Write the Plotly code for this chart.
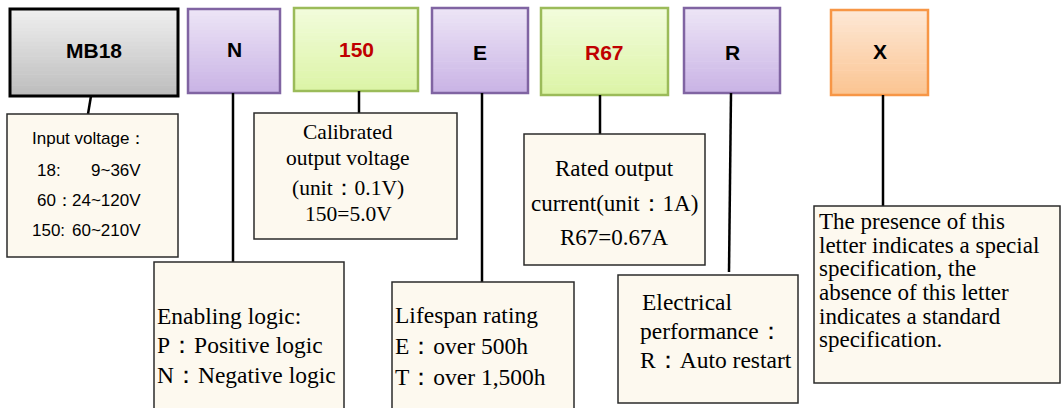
import plotly.graph_objects as go

# ---- content ----
codes = ["MB18", "N", "150", "E", "R67", "R", "X"]
code_text_colors = ["#000000", "#000000", "#c00000", "#000000", "#c00000", "#000000", "#000000"]
code_styles = ["gray", "purple", "green", "purple", "green", "purple", "orange"]

input_title = "Input voltage："
input_keys = ["18:", "60：", "150:"]
input_vals = ["9~36V", "24~120V", "60~210V"]
cal_lines = ["Calibrated", "output voltage", "(unit：0.1V)", "150=5.0V"]
rated_lines = ["Rated output", "current(unit：1A)", "R67=0.67A"]
enable_lines = ["Enabling logic:", "P：Positive logic", "N：Negative logic"]
life_lines = ["Lifespan rating", "E：over 500h", "T：over 1,500h"]
elec_lines = ["Electrical", "performance：", "R：Auto restart"]
spec_lines = ["The presence of this", "letter indicates a special", "specification, the",
              "absence of this letter", "indicates a standard", "specification."]

# ---- layout geometry (pixels) ----
W, H = 1063, 408
code_boxes = [(10, 178, 9, 96), (188, 280, 9, 93), (294, 418, 8, 91), (432, 528, 8, 93),
              (541, 668, 8, 95), (684, 780, 8, 93), (831, 928, 10, 95)]
code_text_y = [50, 49, 49, 52, 52, 52, 51]
connectors = [(91, 96, 88, 114), (233, 93, 233, 262), (359, 91, 359, 113), (482, 93, 482, 282),
              (600, 95, 600, 134), (731, 93, 729, 272), (883, 95, 883, 206)]
desc_boxes = [(7, 178, 114, 257), (254, 457, 113, 239), (524, 705, 134, 265),
              (814, 1060, 206, 383), (154, 344, 262, 420), (392, 574, 282, 420),
              (618, 798, 275, 403)]

styles = {
    "gray": ("#f0f0f0", "#bcbcbc", "#000000", 3),
    "purple": ("#ede5f6", "#c9b3e5", "#8064a2", 2.5),
    "green": ("#f2fcdc", "#dcf4a6", "#9bbb59", 2.5),
    "orange": ("#fde8d6", "#fbc491", "#f79646", 2.5),
}

SANS = "Liberation Sans, Arial, sans-serif"
SERIF = "Liberation Serif, Times New Roman, serif"
CREAM = "#fdf9ef"


def hex2rgb(h):
    h = h.lstrip("#")
    return tuple(int(h[i:i + 2], 16) for i in (0, 2, 4))


def mix(c1, c2, t):
    a, b = hex2rgb(c1), hex2rgb(c2)
    return "rgb(%d,%d,%d)" % tuple(round(a[i] + (b[i] - a[i]) * t) for i in range(3))


fig = go.Figure()
shapes = []
annotations = []

# code boxes with vertical gradient
NB = 24
for (x0, x1, y0, y1), st in zip(code_boxes, code_styles):
    top, bot, border, lw = styles[st]
    for i in range(NB):
        ya = y0 + (y1 - y0) * i / NB
        yb = y0 + (y1 - y0) * (i + 1) / NB
        shapes.append(dict(type="rect", x0=x0, x1=x1, y0=ya, y1=yb + 0.6, line=dict(width=0),
                           fillcolor=mix(top, bot, (i + 0.5) / NB), layer="below"))
    shapes.append(dict(type="rect", x0=x0, x1=x1, y0=y0, y1=y1,
                       line=dict(color=border, width=lw), fillcolor="rgba(0,0,0,0)"))

for (x0, x1, y0, y1), txt_, col, ty in zip(code_boxes, codes, code_text_colors, code_text_y):
    annotations.append(dict(x=(x0 + x1) / 2, y=ty, text="<b>%s</b>" % txt_, showarrow=False,
                            font=dict(family=SANS, size=21, color=col),
                            xanchor="center", yanchor="middle"))

for (x0, y0, x1, y1) in connectors:
    shapes.append(dict(type="line", x0=x0, y0=y0, x1=x1, y1=y1,
                       line=dict(color="#000000", width=2.5)))

for (x0, x1, y0, y1) in desc_boxes:
    shapes.append(dict(type="rect", x0=x0, x1=x1, y0=y0, y1=y1,
                       line=dict(color="#2b2b2b", width=1.5), fillcolor=CREAM))


def txt(x, y, s, size, family=SERIF, anchor="left"):
    annotations.append(dict(x=x, y=y, text=s, showarrow=False, xanchor=anchor, yanchor="middle",
                            font=dict(family=family, size=size, color="#000000")))


# input voltage box
txt(30, 138, input_title, 17, SANS)
for k, v, y, kx in zip(input_keys, input_vals, [170, 200, 230], [35, 35, 30]):
    txt(kx, y, k, 17, SANS)
    txt(143, y, v, 17, SANS, anchor="right")

for s, y in zip(cal_lines, [132, 158, 188, 214]):
    txt(348, y, s, 21.5, SERIF, anchor="center")
for s, y in zip(rated_lines, [168, 203, 237]):
    txt(614, y, s, 23, SERIF, anchor="center")
for s, y in zip(enable_lines, [316, 345, 375]):
    txt(155, y, s, 23.5)
for s, y in zip(life_lines, [315, 346, 377]):
    txt(393, y, s, 23.5)
for s, y, x in zip(elec_lines, [302, 331, 360], [640, 638, 638]):
    txt(x, y, s, 23.5)
for s, y in zip(spec_lines, [221, 245, 268, 292, 316, 339]):
    txt(817, y, s, 23)

fig.update_layout(
    width=W, height=H, margin=dict(l=0, r=0, t=0, b=0),
    paper_bgcolor="#ffffff", plot_bgcolor="#ffffff",
    xaxis=dict(range=[0, W], visible=False, fixedrange=True),
    yaxis=dict(range=[H, 0], visible=False, fixedrange=True),
    shapes=shapes, annotations=annotations, showlegend=False,
)
fig.write_html("out.html", config={"displayModeBar": False},
               post_script="document.body.style.margin='0';document.body.style.overflow='hidden';")
